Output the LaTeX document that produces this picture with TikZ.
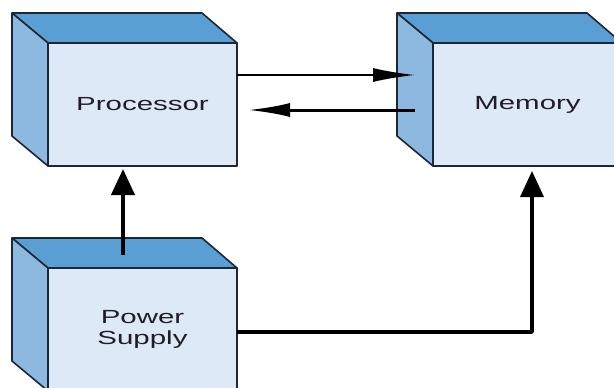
\documentclass[tikz,border=0pt]{standalone}
\usepackage{fontspec}
\usetikzlibrary{arrows.meta}
\newfontfamily\boxfont{Liberation Sans}[FakeStretch=1.55]
\definecolor{topblue}{HTML}{5A9FD3}
\definecolor{sideblue}{HTML}{8DB9E1}
\definecolor{frontblue}{HTML}{DDE9F6}
\definecolor{rim}{HTML}{1C2636}
\definecolor{ink}{HTML}{221B28}
\begin{document}
\begin{tikzpicture}[x=1pt, y=-1pt, line join=round,
    front/.style={draw=rim, fill=frontblue, line width=1.6pt,
      minimum width=189pt, minimum height=123pt, inner sep=0pt, outer sep=0pt,
      text=ink, align=center, font=\boxfont\fontsize{19}{21}\selectfont},
    face/.style={draw=rim, line width=1.6pt},
    bus/.style={-{Latex[length=42pt,width=14pt]}},
    wire/.style={-{Triangle[length=26pt,width=23pt]}}]
  \clip (0,0) rectangle (614,388);
  \fill[white] (0,0) rectangle (614,388);
  % front faces
  \node[front] (proc) at (142.5,104.5) {Processor};
  \node[front] (mem) at (527.5,104.5) {Memory};
  \node[front] (psu) at (142.5,329.5) {Power\\Supply};
  % top and side faces
  \foreach \b in {proc,mem,psu} {
    \filldraw[face, fill=topblue] (\b.north west) -- ([shift={(-36,-30)}]\b.north west)
      -- ([shift={(-35,-30)}]\b.north east) -- (\b.north east) -- cycle;
    \filldraw[face, fill=sideblue] (\b.north west) -- ([shift={(-36,-30)}]\b.north west)
      -- ([shift={(-36,-30)}]\b.south west) -- (\b.south west) -- cycle;
  }
  % connectors
  \draw[bus, line width=2pt] ([shift={(0,-29.5)}]proc.east) -- ([shift={(-18,-29.5)}]mem.west);
  \draw[bus, line width=3pt] ([shift={(-18,5.5)}]mem.west) -- ([shift={(11,5.5)}]proc.east);
  \draw[wire, line width=4pt, shorten >=3pt] ([shift={(-19.5,-13)}]psu.north) -- ([shift={(-19.5,0)}]proc.south);
  \draw[wire, line width=3.5pt, shorten >=5pt] ([shift={(0,2.5)}]psu.east) -| ([shift={(4.5,0)}]mem.south);
\end{tikzpicture}
\end{document}
